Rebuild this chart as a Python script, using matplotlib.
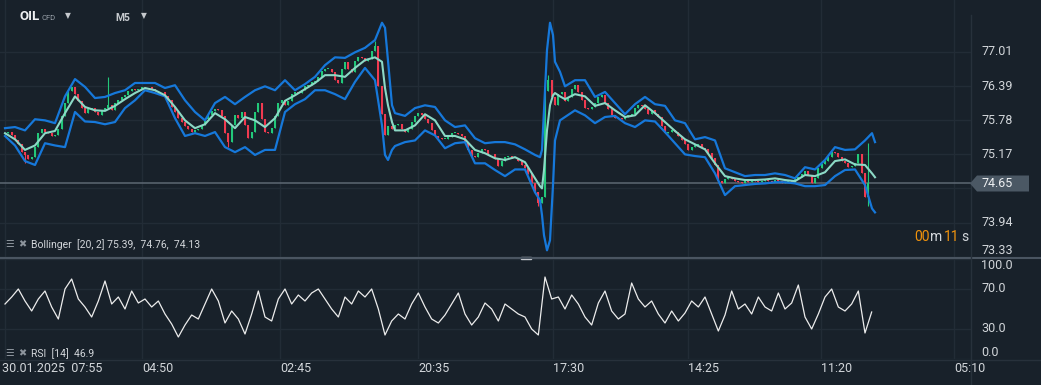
from __future__ import annotations

import matplotlib

matplotlib.use("Agg")
import matplotlib.pyplot as plt
from matplotlib.patches import Polygon, Rectangle
import numpy as np


# Fechamentos M5 (um valor por barra)
CLOSES = [
    75.55, 75.57, 75.52, 75.42, 75.35, 75.22, 75.15, 75.08, 75.12, 75.30,
    75.55, 75.62, 75.58, 75.55, 75.50, 75.52, 75.62, 75.85, 76.10, 76.30,
    76.38, 76.25, 76.12, 76.00, 75.92, 75.98, 76.00, 75.93, 75.88, 75.97,
    76.00, 76.05, 75.97, 76.10, 76.15, 76.19, 76.24, 76.30, 76.34, 76.33,
    76.35, 76.38, 76.37, 76.38, 76.34, 76.30, 76.29, 76.28, 76.22, 76.15,
    76.02, 75.93, 75.82, 75.75, 75.68, 75.62, 75.57, 75.60, 75.62, 75.70,
    75.80, 75.88, 75.95, 75.98, 75.96, 75.85, 75.55, 75.40, 75.70, 75.87,
    75.82, 75.93, 75.70, 75.46, 75.57, 75.93, 76.10, 75.80, 75.57, 75.55,
    75.65, 75.85, 76.10, 76.15, 76.05, 76.12, 76.25, 76.28, 76.27, 76.32,
    76.39, 76.42, 76.46, 76.48, 76.55, 76.66, 76.70, 76.70, 76.64, 76.50,
    76.45, 76.70, 76.82, 76.70, 76.65, 76.85, 76.92, 76.90, 76.85, 76.88,
    77.02, 77.12, 76.40, 75.90, 75.52, 75.68, 75.63, 75.70, 75.72, 75.62,
    75.57, 75.63, 75.75, 75.86, 75.92, 75.87, 75.80, 75.74, 75.60, 75.50,
    75.47, 75.44, 75.45, 75.48, 75.55, 75.56, 75.54, 75.50, 75.38, 75.25,
    75.14, 75.13, 75.20, 75.27, 75.24, 75.17, 75.18, 75.08, 74.96, 75.06,
    75.12, 75.14, 75.10, 75.10, 75.05, 74.98, 74.93, 74.82, 74.65, 74.50,
    74.30, 74.40, 76.30, 76.50, 76.20, 76.05, 76.25, 76.29, 76.12, 76.20,
    76.35, 76.41, 76.28, 76.15, 76.00, 75.98, 76.02, 76.10, 76.20, 76.23,
    76.10, 75.98, 75.88, 75.82, 75.83, 75.80, 75.84, 75.87, 75.90, 76.00,
    76.05, 76.04, 75.98, 75.90, 75.96, 75.90, 75.84, 75.68, 75.56, 75.57,
    75.60, 75.58, 75.50, 75.42, 75.36, 75.25, 75.30, 75.34, 75.36, 75.28,
    75.27, 75.20, 75.10, 74.98, 74.70, 74.66, 74.72, 74.76, 74.73, 74.70,
    74.67, 74.66, 74.70, 74.68, 74.71, 74.69, 74.67, 74.70, 74.72, 74.70,
    74.68, 74.71, 74.69, 74.66, 74.68, 74.70, 74.67, 74.72, 74.76, 74.82,
    74.88, 74.80, 74.66, 74.75, 74.92, 75.00, 75.05, 75.12, 75.22, 75.20,
    75.12, 75.06, 75.01, 74.95, 74.97, 75.01, 75.18, 74.83, 74.40, 74.65,
]
OPEN_FIRST = 75.53
# pavios mais visíveis (barra -> preço)
WICK_HIGHS = {31: 76.55, 111: 77.20, 163: 76.60, 259: 75.37}
WICK_LOWS = {6: 75.02, 67: 75.30, 160: 74.25, 259: 74.24}

# Bandas de Bollinger (posição em barras)
BAND_X = [
    0, 3, 6, 9, 12, 15, 18, 21, 24, 27, 30, 33, 36, 39, 42, 45, 48, 51, 54, 57,
    60, 63, 66, 69, 72, 75, 78, 81, 84, 87, 90, 93, 96, 99, 102, 105, 108, 111,
    113.1, 114, 114.9, 116.1, 117, 120, 123, 126, 129, 132, 135, 138, 141, 144,
    147, 150, 153, 156, 159, 160.5, 161.1, 161.7, 162.6, 163.5, 164.4, 165,
    166.5, 168, 171, 174, 177, 180, 183, 186, 189, 192, 195, 198, 201, 204, 207,
    210, 213, 216, 219, 222, 225, 228, 231, 234, 237, 240, 243, 246, 249, 252,
    255, 258, 260.1, 261,
]
BAND_UPPER = [
    75.64, 75.66, 75.60, 75.80, 75.78, 75.73, 76.21, 76.52, 76.38, 76.18, 76.20,
    76.27, 76.32, 76.45, 76.45, 76.45, 76.36, 76.41, 76.14, 75.93, 75.78, 76.09,
    76.20, 76.07, 76.20, 76.32, 76.39, 76.32, 76.50, 76.32, 76.43, 76.56, 76.77,
    76.91, 76.90, 77.00, 77.08, 77.22, 77.53, 77.44, 76.85, 76.05, 75.91, 75.86,
    76.00, 76.05, 76.02, 75.78, 75.66, 75.69, 75.46, 75.37, 75.39, 75.39, 75.35,
    75.26, 75.16, 75.12, 75.25, 75.96, 77.04, 77.53, 77.31, 76.83, 76.65, 76.39,
    76.50, 76.50, 76.20, 76.29, 76.09, 75.89, 76.07, 76.20, 76.07, 76.04, 75.78,
    75.73, 75.44, 75.48, 75.42, 74.92, 74.85, 74.78, 74.80, 74.80, 74.83, 74.80,
    74.74, 74.94, 74.90, 75.07, 75.30, 75.25, 75.26, 75.42, 75.55, 75.39,
]
BAND_MIDDLE = [
    75.55, 75.44, 75.25, 75.33, 75.55, 75.59, 75.91, 76.21, 76.02, 75.96, 75.95,
    76.04, 76.16, 76.27, 76.36, 76.32, 76.23, 76.02, 75.78, 75.64, 75.71, 75.91,
    75.80, 75.64, 75.84, 75.78, 75.66, 75.82, 76.13, 76.23, 76.34, 76.45, 76.59,
    76.59, 76.56, 76.72, 76.86, 76.91, 76.83, 76.36, 76.05, 75.75, 75.60, 75.60,
    75.69, 75.89, 75.78, 75.50, 75.50, 75.44, 75.25, 75.19, 75.10, 75.07, 75.12,
    75.03, 74.74, 74.60, 74.56, 74.89, 75.60, 76.05, 76.23, 76.27, 76.21, 76.16,
    76.25, 76.21, 76.04, 76.09, 75.96, 75.84, 75.87, 76.05, 75.91, 75.75, 75.59,
    75.44, 75.35, 75.26, 75.01, 74.78, 74.74, 74.71, 74.71, 74.72, 74.74, 74.71,
    74.69, 74.80, 74.78, 74.85, 75.05, 75.08, 74.99, 74.98, 74.83, 74.76,
]
BAND_LOWER = [
    75.50, 75.33, 75.05, 74.98, 75.37, 75.33, 75.30, 75.93, 75.76, 75.75, 75.71,
    75.75, 76.00, 76.14, 76.32, 76.27, 76.21, 75.82, 75.50, 75.55, 75.50, 75.57,
    75.30, 75.21, 75.30, 75.16, 75.25, 75.25, 75.93, 76.07, 76.16, 76.32, 76.32,
    76.25, 76.16, 76.47, 76.72, 76.50, 75.69, 75.16, 75.07, 75.25, 75.32, 75.39,
    75.42, 75.60, 75.51, 75.28, 75.37, 75.39, 75.01, 75.01, 74.89, 74.78, 74.90,
    74.90, 74.49, 74.35, 74.08, 73.72, 73.45, 73.63, 74.62, 75.42, 75.78, 75.84,
    75.96, 75.87, 75.73, 75.84, 75.86, 75.73, 75.66, 75.78, 75.76, 75.57, 75.37,
    75.17, 75.14, 75.12, 74.83, 74.44, 74.60, 74.62, 74.64, 74.65, 74.67, 74.67,
    74.65, 74.60, 74.60, 74.62, 74.78, 74.89, 74.90, 74.62, 74.20, 74.13,
]

# RSI(14) lido a cada duas barras
RSI_VALUES = [
    55, 62, 70, 58, 48, 60, 68, 52, 40, 70, 80, 60, 52, 42, 58, 78, 55, 62, 50,
    68, 56, 60, 52, 58, 45, 35, 22, 34, 44, 40, 55, 70, 58, 36, 48, 40, 25, 45,
    68, 42, 38, 60, 70, 55, 64, 58, 66, 70, 60, 50, 42, 62, 55, 68, 62, 70, 50,
    24, 38, 45, 40, 55, 66, 52, 40, 36, 44, 55, 66, 45, 34, 42, 56, 50, 38, 55,
    50, 45, 42, 30, 24, 82, 60, 62, 50, 64, 55, 42, 34, 56, 68, 48, 40, 45, 76,
    60, 52, 58, 45, 36, 48, 38, 46, 58, 52, 62, 45, 28, 44, 68, 50, 55, 45, 62,
    52, 48, 66, 50, 56, 74, 42, 30, 45, 62, 70, 52, 48, 55, 68, 26, 47,
]

PRICE_TICKS = [77.01, 76.39, 75.78, 75.17, 74.56, 73.94, 73.33]
PRICE_HIDDEN = 74.56  # fica atrás da etiqueta do último preço
RSI_TICKS = [100.0, 70.0, 30.0, 0.0]
TIME_TICKS = [0, 41.1, 82.5, 123.9, 164.4, 204.9, 244.8, 284.7]
TIME_LABELS = ["30.01.2025  07:55", "04:50", "02:45", "20:35", "17:30", "14:25", "11:20", "05:10"]
LAST_PRICE = 74.65
BB_TEXT = "Bollinger  [20, 2] 75.39,  74.76,  74.13"
RSI_TEXT = "RSI  [14]  46.9"

W, H = 1041, 385
BG = "#18212a"
GRID = "#222c36"
TXT = "#d2d6da"
UP = "#22c87a"
DOWN = "#f03a50"
BAND = "#1678da"
MID = "#8cd9c6"

plt.rcParams["font.family"] = ["Roboto", "DejaVu Sans"]


def fx(x: float) -> float:
    return x / W


def fy(y: float) -> float:
    return 1 - y / H


def desenhar_candles(ax) -> None:
    closes = np.array(CLOSES)
    opens = np.concatenate([[OPEN_FIRST], closes[:-1]])
    idx = np.arange(len(closes))
    highs = np.maximum(opens, closes)
    lows = np.minimum(opens, closes)
    for i, v in WICK_HIGHS.items():
        highs[i] = max(highs[i], v)
    for i, v in WICK_LOWS.items():
        lows[i] = min(lows[i], v)
    cores = np.where(closes >= opens, UP, DOWN)
    ax.vlines(idx, lows, highs, colors=cores, linewidth=0.8, zorder=3)
    corpo = np.maximum(np.abs(closes - opens), 0.015)
    ax.bar(idx, corpo, bottom=np.minimum(opens, closes), width=0.62,
           color=cores, linewidth=0, zorder=3)


def main() -> None:
    fig = plt.figure(figsize=(W / 100, H / 100), dpi=100, facecolor=BG)

    ax = fig.add_axes([0, fy(257), fx(971), 257 / H], facecolor=BG)
    ax_rsi = fig.add_axes([0, fy(359), fx(971), 100 / H], facecolor=BG)

    for a in (ax, ax_rsi):
        a.set_xlim(-1.5, 289.8)
        a.set_xticks(TIME_TICKS)
        a.tick_params(length=0, labelbottom=False, labelleft=False)
        a.grid(True, color=GRID, linewidth=1)
        for s in a.spines.values():
            s.set_visible(False)
        a.set_axisbelow(True)

    # painel de preço
    ax.set_ylim(73.33, 77.938)
    ax.set_yticks(PRICE_TICKS)
    desenhar_candles(ax)
    ax.plot(BAND_X, BAND_UPPER, color=BAND, linewidth=1.6, zorder=4)
    ax.plot(BAND_X, BAND_LOWER, color=BAND, linewidth=1.6, zorder=4)
    ax.plot(BAND_X, BAND_MIDDLE, color=MID, linewidth=1.5, zorder=5)
    ax.axhline(LAST_PRICE, color="#5d6873", linewidth=1.1, zorder=2)

    ytr = ax.get_yaxis_transform()
    for v in PRICE_TICKS:
        if v == PRICE_HIDDEN:
            continue
        va = "bottom" if v == PRICE_TICKS[-1] else "center"
        ax.text(1.0103, v, f"{v:.2f}", transform=ytr, color=TXT, fontsize=9,
                va=va, ha="left", clip_on=False)

    # painel RSI
    ax_rsi.set_ylim(0, 100)
    ax_rsi.set_yticks(RSI_TICKS)
    ax_rsi.plot(np.arange(len(RSI_VALUES)) * 2, RSI_VALUES, color="#ececec",
                linewidth=0.9)
    rtr = ax_rsi.get_yaxis_transform()
    for v in RSI_TICKS:
        va = {100.0: "top", 0.0: "bottom"}.get(v, "center")
        ax_rsi.text(1.0103, v, f"{v:.1f}", transform=rtr, color=TXT,
                    fontsize=9, va=va, ha="left", clip_on=False)

    xtr = ax_rsi.get_xaxis_transform()
    for pos, lab in zip(TIME_TICKS, TIME_LABELS):
        x0 = -1.0 if pos == 0 else pos
        ax_rsi.text(x0, -0.09, lab, transform=xtr, color=TXT, fontsize=9,
                    va="center", ha="left", clip_on=False)

    # separadores
    fig.add_artist(plt.Line2D([0, 1], [fy(257.5), fy(257.5)], color="#4a5561",
                              linewidth=1.5, transform=fig.transFigure))
    fig.add_artist(plt.Line2D([0, 1], [fy(359.5), fy(359.5)], color="#27313b",
                              linewidth=1, transform=fig.transFigure))
    fig.add_artist(plt.Line2D([fx(971), fx(971)], [fy(15), fy(385)],
                              color="#27313b", linewidth=1,
                              transform=fig.transFigure))
    fig.add_artist(Rectangle((fx(521), fy(259)), fx(10), 2.5 / H,
                             color="#c9cdd1", transform=fig.transFigure))

    # etiqueta do último preço
    pts = [(970, 183.5), (977, 175.5), (1029, 175.5), (1029, 191.5), (977, 191.5)]
    fig.add_artist(Polygon([(fx(x), fy(y)) for x, y in pts], closed=True,
                           facecolor="#4b5864", edgecolor="none",
                           transform=fig.transFigure, zorder=10))
    fig.text(fx(981), fy(183.5), f"{LAST_PRICE:.2f}", color="#eef0f2",
             fontsize=9, va="center", ha="left", zorder=11)

    # cronômetro da vela
    laranja = "#f0920c"
    for x, s, c in [(914, "00", laranja), (930, "m", TXT), (944, "11", laranja),
                    (961, "s", TXT)]:
        fig.text(fx(x), fy(237), s, color=c, fontsize=10, va="center", ha="left")

    # cabeçalho
    fig.text(fx(20), fy(17), "OIL", color="#eef0f2", fontsize=9.5,
             fontweight="bold", va="center")
    fig.text(fx(42), fy(18), "CFD", color="#9aa2aa", fontsize=5.5, va="center")
    fig.text(fx(65), fy(16), "\u25bc", color="#c5c9cd", fontsize=5.5,
             va="center", family="DejaVu Sans")
    fig.text(fx(115), fy(18), "M5", color="#c5c9cd", fontsize=7.5,
             fontweight="bold", va="center")
    fig.text(fx(141), fy(16), "\u25bc", color="#c5c9cd", fontsize=5.5,
             va="center", family="DejaVu Sans")

    # legendas dos indicadores
    for y, texto in [(244, BB_TEXT), (353, RSI_TEXT)]:
        fig.text(fx(5), fy(y), "\u2630", color="#8c949c", fontsize=7,
                 va="center", family="DejaVu Sans")
        fig.text(fx(18), fy(y), "\u2716", color="#8c949c", fontsize=7,
                 va="center", family="DejaVu Sans")
        fig.text(fx(31), fy(y + 1), texto, color=TXT, fontsize=7.5,
                 va="center")

    fig.savefig("out.png", dpi=100, facecolor=BG)
    plt.close(fig)


if __name__ == "__main__":
    main()
